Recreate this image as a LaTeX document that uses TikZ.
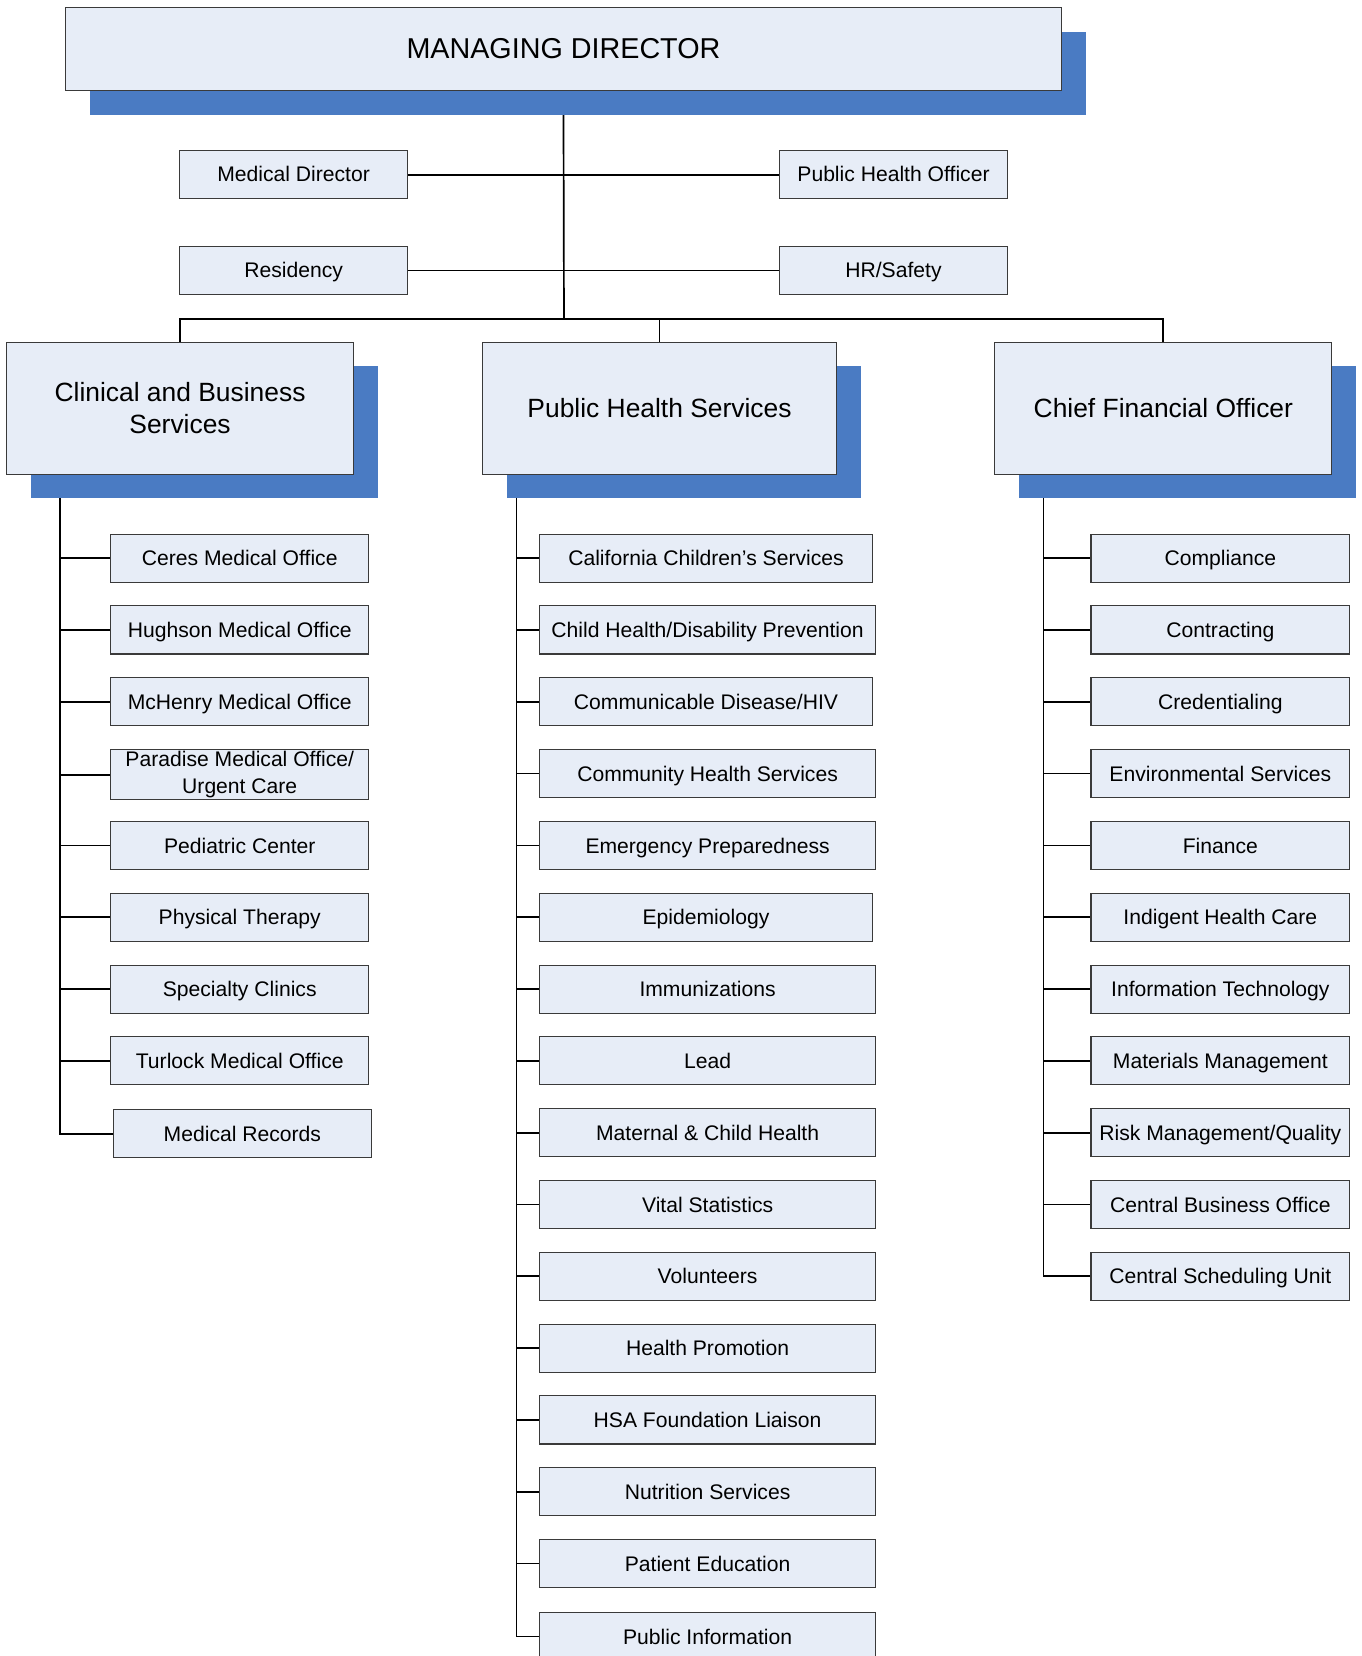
\documentclass[tikz,border=0pt]{standalone}
\usepackage{fontspec}
\setmainfont{Liberation Sans}
\usetikzlibrary{shadows,backgrounds}
\definecolor{boxfill}{HTML}{E7EDF7}
\definecolor{boxline}{HTML}{3A3A3A}
\definecolor{shadowblue}{HTML}{4A7BC3}
\tikzset{
  x=0.5pt, y=-0.5pt,
  basebox/.style={draw=boxline, fill=boxfill, line width=0.5pt, inner sep=1pt, align=center, text=black},
  bigbox/.style={basebox, general shadow={fill=shadowblue, shadow xshift=11.5pt, shadow yshift=-11.5pt}},
  topbox/.style={bigbox, minimum width=471.5pt, minimum height=39.5pt, font=\fontsize{13.6}{16}\selectfont},
  headbox/.style={bigbox, minimum height=62.5pt, font=\fontsize{12.5}{15}\selectfont},
  staffbox/.style={basebox, minimum width=108pt, minimum height=22.75pt, font=\fontsize{10}{12}\selectfont, text height=8.1pt, text depth=1.3pt},
  subbox/.style={basebox, minimum height=22.75pt, font=\fontsize{10}{12}\selectfont, text height=8.3pt, text depth=1.1pt},
  lw/.style={subbox, minimum width=122pt},
  mw/.style={subbox, minimum width=159pt},
  mn/.style={subbox, minimum width=157.5pt},
  rw/.style={subbox, minimum width=122.5pt},
  conn/.style={line width=0.8pt, black},
}
\begin{document}
\begin{tikzpicture}
\useasboundingbox (0,0) rectangle (1289,1568);
\clip (0,0) rectangle (1289,1568);

% top
\node[topbox] (md) at (533.5,46.5) {MANAGING DIRECTOR};
\node[staffbox] (meddir) at (278,165.5) {Medical Director};
\node[staffbox] (pho) at (846,165.5) {Public Health Officer};
\node[staffbox] (res) at (278,256) {Residency};
\node[staffbox] (hr) at (846,256) {HR/Safety};

\node[headbox, minimum width=164.5pt] (cbs) at (170.5,386.5) {Clinical and Business\\Services};
\node[headbox, minimum width=167.5pt] (phs) at (624.5,386.5) {Public Health Services};
\node[headbox, minimum width=159.5pt] (cfo) at (1101.5,386.5) {Chief Financial Officer};

% left column
\node[lw] (l1) at (227,528.5) {Ceres Medical Office};
\node[lw] (l2) at (227,596.5) {Hughson Medical Office};
\node[lw] (l3) at (227,664.5) {McHenry Medical Office};
\node[lw, text height=, text depth=, font=\fontsize{10}{12.5}\selectfont] (l4) at (227,733.5) {Paradise Medical Office/\\Urgent Care};
\node[lw] (l5) at (227,800.5) {Pediatric Center};
\node[lw] (l6) at (227,868.5) {Physical Therapy};
\node[lw] (l7) at (227,936.5) {Specialty Clinics};
\node[lw] (l8) at (227,1004.5) {Turlock Medical Office};
\node[lw] (l9) at (229.5,1073.5) {Medical Records};

% middle column
\node[mn] (m1) at (668.5,528.5) {California Children’s Services};
\node[mw] (m2) at (670,596.5) {Child Health/Disability Prevention};
\node[mn] (m3) at (668.5,664.5) {Communicable Disease/HIV};
\node[mw] (m4) at (670,732.5) {Community Health Services};
\node[mw] (m5) at (670,800.5) {Emergency Preparedness};
\node[mn] (m6) at (668.5,868.5) {Epidemiology};
\node[mw] (m7) at (670,936.5) {Immunizations};
\node[mw] (m8) at (670,1004.5) {Lead};
\node[mw] (m9) at (670,1072.5) {Maternal \& Child Health};
\node[mw] (m10) at (670,1140.5) {Vital Statistics};
\node[mw] (m11) at (670,1208.5) {Volunteers};
\node[mw] (m12) at (670,1276.5) {Health Promotion};
\node[mw] (m13) at (670,1344.5) {HSA Foundation Liaison};
\node[mw] (m14) at (670,1412.5) {Nutrition Services};
\node[mw] (m15) at (670,1480.5) {Patient Education};
\node[mw] (m16) at (670,1549.5) {Public Information};

% right column
\node[rw] (r1) at (1155.5,528.5) {Compliance};
\node[rw] (r2) at (1155.5,596.5) {Contracting};
\node[rw] (r3) at (1155.5,664.5) {Credentialing};
\node[rw] (r4) at (1155.5,732.5) {Environmental Services};
\node[rw] (r5) at (1155.5,800.5) {Finance};
\node[rw] (r6) at (1155.5,868.5) {Indigent Health Care};
\node[rw] (r7) at (1155.5,936.5) {Information Technology};
\node[rw] (r8) at (1155.5,1004.5) {Materials Management};
\node[rw] (r9) at (1155.5,1072.5) {Risk Management/Quality};
\node[rw] (r10) at (1155.5,1140.5) {Central Business Office};
\node[rw] (r11) at (1155.5,1208.5) {Central Scheduling Unit};

\coordinate (bus) at (534,302);
\coordinate (lsp) at (57,449);
\coordinate (msp) at (489,449);
\coordinate (rsp) at (988,449);

\begin{scope}[on background layer]
  \draw[conn] (md.south) -- (bus);
  \draw[conn] (meddir.east) -- (pho.west);
  \draw[conn] (res.east) -- (hr.west);
  \draw[conn] (cbs.north) |- (bus);
  \draw[conn] (cfo.north) |- (bus);
  \draw[conn] (phs.north) -- (phs.north |- bus);
  \draw[conn] (lsp) |- (l9.west);
  \foreach \i in {1,...,8} { \draw[conn] (l\i.west) -- (l\i.west -| lsp); }
  \draw[conn] (msp) |- (m16.west);
  \foreach \i in {1,...,15} { \draw[conn] (m\i.west) -- (m\i.west -| msp); }
  \draw[conn] (rsp) |- (r11.west);
  \foreach \i in {1,...,10} { \draw[conn] (r\i.west) -- (r\i.west -| rsp); }
\end{scope}
\end{tikzpicture}
\end{document}
